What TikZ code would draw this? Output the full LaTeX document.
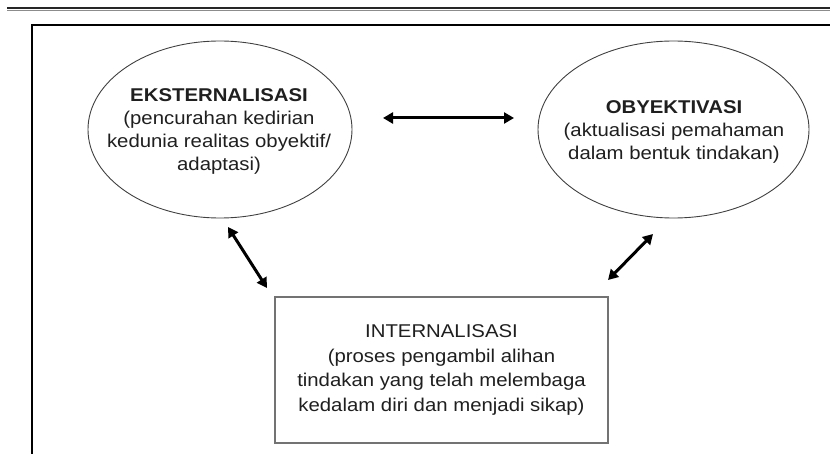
\documentclass[tikz,border=0pt]{standalone}
\usepackage{fontspec}
\setmainfont[FakeStretch=1.1]{Liberation Sans}
\usetikzlibrary{shapes.geometric,arrows.meta}
\tikzset{
  ell/.style={draw=black!75, line width=0.9pt, ellipse, inner sep=0pt},
  txt/.style={align=center, text=black!88, font=\fontsize{18.5pt}{23pt}\selectfont},
  boxtxt/.style={draw=black!55, line width=1.3pt, align=center, text=black!88, inner sep=0pt,
    font=\fontsize{18.5pt}{24.5pt}\selectfont},
  dblarr/.style={line width=3pt, {Triangle[length=10pt,width=11pt]}-{Triangle[length=10pt,width=11pt]}}
}
\begin{document}
\begin{tikzpicture}[x=1pt,y=-1pt]
\useasboundingbox (0,0) rectangle (830,454);
\clip (0,0) rectangle (830,454);
% top double rule
\draw[line width=1.6pt, black!85] (7,8.3) -- (840,8.3);
\draw[line width=1.6pt, black!45] (7,10.4) -- (840,10.4);
% outer frame
\draw[line width=2pt, black] (32,470) -- (32,25) -- (850,25);
% nodes
\node[ell, minimum width=264pt, minimum height=177pt] (ek) at (220,129.5) {};
\node[txt] (ekt) at (219,131) {\textbf{EKSTERNALISASI}\\(pencurahan kedirian\\kedunia realitas obyektif/\\adaptasi)};
\node[ell, minimum width=271pt, minimum height=177pt] (ob) at (673.5,129.5) {};
\node[txt] (obt) at (674,132) {\textbf{OBYEKTIVASI}\\(aktualisasi pemahaman\\dalam bentuk tindakan)};
\node[boxtxt, minimum width=333pt, minimum height=146pt] (in) at (441.5,370) {INTERNALISASI\\(proses pengambil alihan\\tindakan yang telah melembaga\\kedalam diri dan menjadi sikap)};
% connector ends
\coordinate (h1) at (383,118);
\coordinate (h2) at (514,118);
\coordinate (l1) at (228,227);
\coordinate (l2) at (267,288);
\coordinate (r1) at (653,234);
\coordinate (r2) at (608,280);
\draw[dblarr] (h1) -- (h2);
\draw[dblarr] (l1) -- (l2);
\draw[dblarr] (r1) -- (r2);
\end{tikzpicture}
\end{document}
